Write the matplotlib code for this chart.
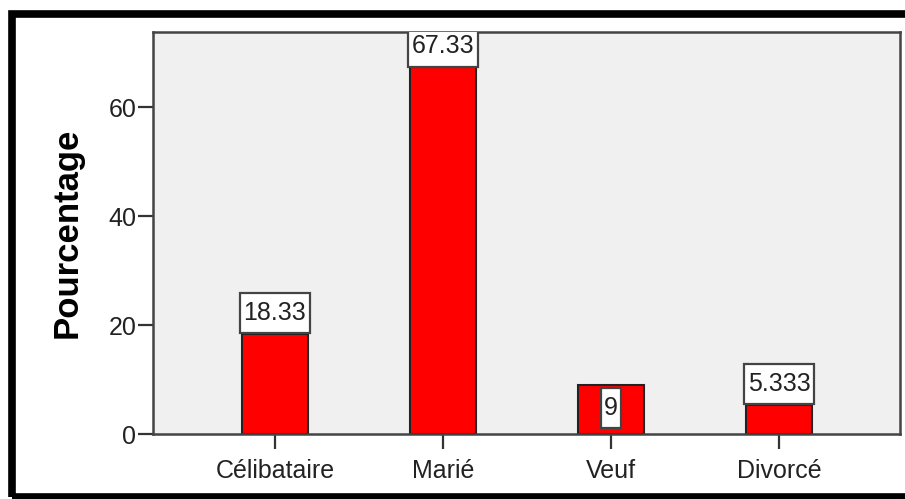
import matplotlib
matplotlib.use("Agg")
import matplotlib.pyplot as plt
from matplotlib.patches import Rectangle
from matplotlib.path import Path

## Data
categories = ["Célibataire", "Marié", "Veuf", "Divorcé"]
percent = [18.33, 67.33, 9, 5.333]
value_labels = ["18.33", "67.33", "9", "5.333"]
y_ticks = [0, 20, 40, 60]

plt.rcParams["font.family"] = ["Liberation Sans", "DejaVu Sans"]


def tall_box(x0, y0, width, height, mutation_size):
    # square box with more padding top/bottom than left/right (SPSS style)
    px = 0.14 * mutation_size
    py = 0.33 * mutation_size
    x0, y0 = x0 - px, y0 - py
    x1, y1 = x0 + width + 2 * px, y0 + height + 2 * py
    return Path([(x0, y0), (x1, y0), (x1, y1), (x0, y1), (x0, y0)], closed=True)


fig = plt.figure(figsize=(9.05, 4.99), dpi=100)
ax = fig.add_axes([153 / 905, 1 - 434 / 499, 747 / 905, 402 / 499])

x = list(range(len(categories)))
ax.bar(x, percent, width=0.39, color="#ff0000", edgecolor="#222222", linewidth=1.5)

ax.set_facecolor("#f0f0f0")
ax.set_xlim(-0.726, 3.72)
ax.set_ylim(0, 73.8)
ax.set_yticks(y_ticks)
ax.set_xticks(x)
ax.set_xticklabels(categories)
ax.tick_params(axis="both", labelsize=18, length=11, width=1.6, color="#333333", labelcolor="#222222")
ax.tick_params(axis="x", pad=7)
ax.tick_params(axis="y", pad=1)
for sp in ax.spines.values():
    sp.set_color("#444444")
    sp.set_linewidth(1.8)

ax.set_ylabel("Pourcentage", fontsize=25, fontweight="bold", labelpad=18)

# value boxes, clipped at the top of the plot area like the original
box = dict(boxstyle=tall_box, facecolor="white", edgecolor="#444444", linewidth=1.6)
for xi, v, lab in zip(x, percent, value_labels):
    if lab == "9":
        # this one sits inside its bar
        ax.text(xi, v - 2.0, lab, ha="center", va="top", fontsize=18,
                color="#222222", bbox=box, clip_on=True)
    else:
        ax.text(xi, v + 1.65, lab, ha="center", va="bottom", fontsize=18,
                color="#222222", bbox=box, clip_on=True)

# outer black frame
fig.patches.append(Rectangle((11.5 / 905, 1 - 497 / 499), 1.1, (497 - 13.5) / 499,
                             transform=fig.transFigure, fill=False,
                             edgecolor="black", linewidth=5.5))

fig.savefig("out.png", dpi=100)
